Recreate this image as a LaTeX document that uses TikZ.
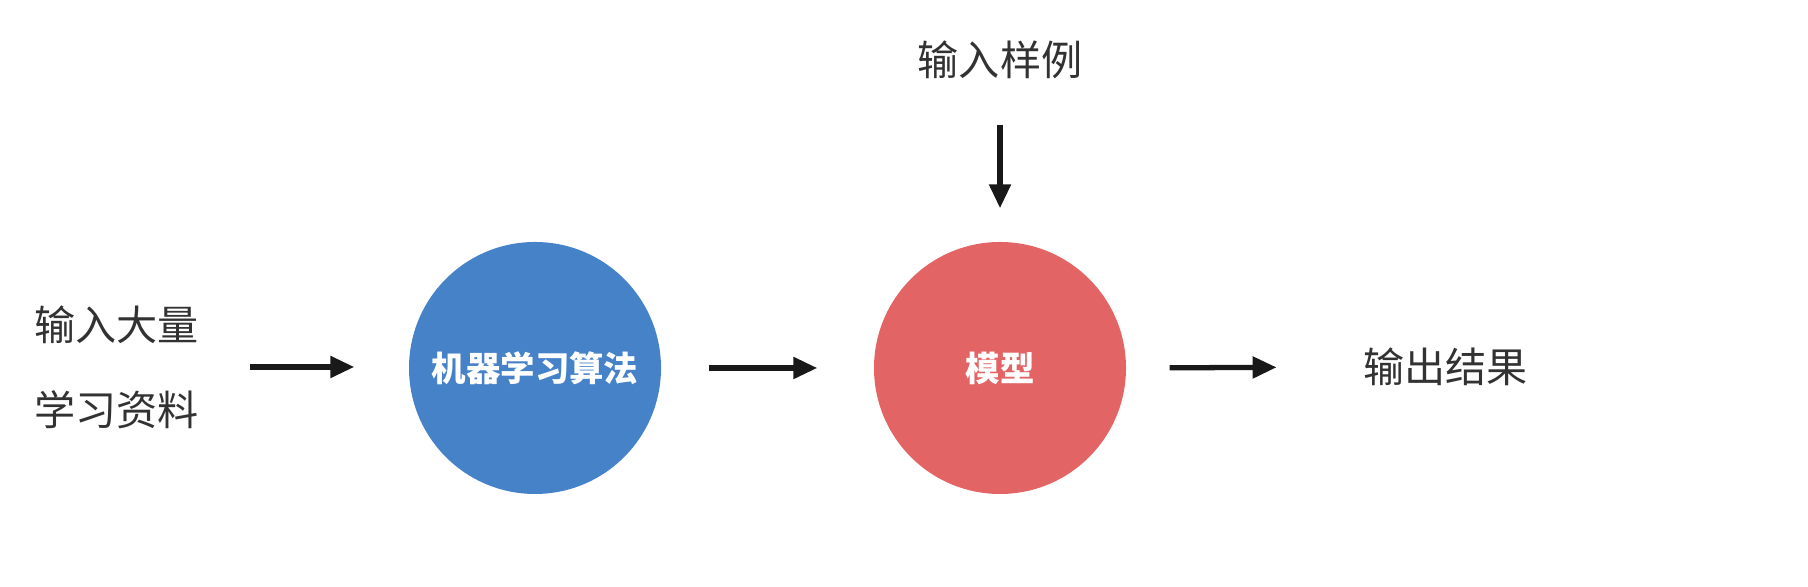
\documentclass[tikz,border=0pt]{standalone}
\usepackage{fontspec}
\setmainfont{Noto Sans CJK SC}
\usepackage{xcolor}
\usetikzlibrary{arrows.meta}

\definecolor{algblue}{RGB}{70,130,199}
\definecolor{modelred}{RGB}{226,100,101}
\definecolor{textgray}{RGB}{50,50,50}

\tikzset{
  flow/.style={line width=1.5pt, draw=black!90, -{Triangle[length=2.4mm,width=2.1mm]}},
  label/.style={text=textgray, inner sep=0pt, font=\fontsize{11.7pt}{14pt}\selectfont},
  ball/.style={circle, minimum size=2.52cm, inner sep=0pt, text=white,
    font=\fontsize{9.8pt}{12pt}\selectfont\bfseries}
}

\begin{document}
\begin{tikzpicture}
\useasboundingbox (0,0) rectangle (18.08,5.87);

\node[label] (dataA) at (1.165,2.62) {输入大量};
\node[label] (dataB) at (1.165,1.77) {学习资料};
\coordinate (datain) at (2.50,2.20);

\node[ball, fill=algblue] (algo) at (5.35,2.19) {机器学习算法};
\node[ball, fill=modelred] (model) at (10.00,2.19) {模型};

\node[label] (sample) at (10.00,5.27) {输入样例};
\node[label] (result) at (14.455,2.20) {输出结果};

\draw[flow, shorten >=5.4mm] (datain) -- (datain -| algo.west);
\draw[flow, shorten <=4.7mm, shorten >=5.6mm] (algo.east) -- (model.west);
\draw[flow, shorten <=4.3mm, shorten >=8.6mm] (model.east) -- (result.west);
\draw[flow, shorten <=4.5mm, shorten >=3.3mm] (sample.south) -- (model.north);
\end{tikzpicture}
\end{document}
